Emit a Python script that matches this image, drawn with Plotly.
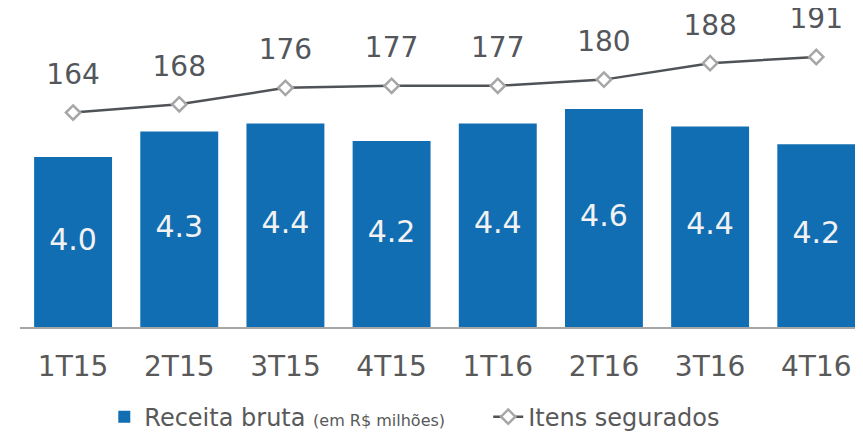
import plotly.graph_objects as go

categories = ["1T15", "2T15", "3T15", "4T15", "1T16", "2T16", "3T16", "4T16"]
receita = [4.0, 4.32, 4.42, 4.2, 4.42, 4.6, 4.38, 4.16]
itens = [164, 168, 176, 177, 177, 180, 188, 191]

FONT = "DejaVu Sans, sans-serif"
Y0, Y1 = 1.875, 5.8375
Y2_0, Y2_1 = 59.9, 213.8
x_idx = list(range(len(categories)))

fig = go.Figure()
fig.add_trace(go.Bar(
    x=x_idx, y=receita, width=0.734,
    name="Receita bruta <span style='font-size:16px'>(em R$ milhões)</span>" + "\u00a0" * 5,
    marker=dict(color="#126EB3", line=dict(width=0)),
    hoverinfo="skip",
))
# value labels centred in the visible part of each bar
fig.add_trace(go.Scatter(
    x=x_idx, y=[(v + Y0) / 2 for v in receita], mode="text",
    text=[f"{v:.1f}" for v in receita], textposition="middle center",
    textfont=dict(family=FONT, size=30, color="#F2F2F2"),
    showlegend=False, hoverinfo="skip",
))
fig.add_trace(go.Scatter(
    x=x_idx, y=itens, yaxis="y2", mode="lines+markers",
    name="Itens segurados",
    line=dict(color="#4F5256", width=2.5),
    marker=dict(symbol="diamond", size=11, color="white",
                line=dict(color="#A6A6A6", width=2.5)),
    cliponaxis=False,
))
fig.add_trace(go.Scatter(
    x=x_idx, y=itens, yaxis="y2", mode="markers+text",
    marker=dict(size=33, color="rgba(0,0,0,0)"),
    text=[str(v) for v in itens], textposition="top center",
    textfont=dict(family=FONT, size=28, color="#53565A"),
    showlegend=False, hoverinfo="skip", cliponaxis=False,
))

fig.update_layout(
    width=855, height=432,
    margin=dict(l=12, r=0, t=2, b=113),
    paper_bgcolor="white", plot_bgcolor="white",
    font=dict(family=FONT, color="#595959"),
    showlegend=True,
    legend=dict(orientation="h", x=0.10, xanchor="left", y=-0.355, yanchor="bottom",
                font=dict(family=FONT, size=24, color="#595959"),
                itemwidth=30, traceorder="normal"),
    xaxis=dict(
        range=[-0.5, 7.44], tickmode="array", tickvals=x_idx, ticktext=categories,
        showgrid=False, zeroline=False, showline=True, linecolor="#A6A6A6", linewidth=2,
        ticks="", tickfont=dict(family=FONT, size=28, color="#595959"),
        ticklabelstandoff=13,
    ),
    yaxis=dict(range=[Y0, Y1], visible=False, showgrid=False, zeroline=False),
    yaxis2=dict(range=[Y2_0, Y2_1], overlaying="y", visible=False, showgrid=False, zeroline=False),
)

fig.write_html("out.html")
